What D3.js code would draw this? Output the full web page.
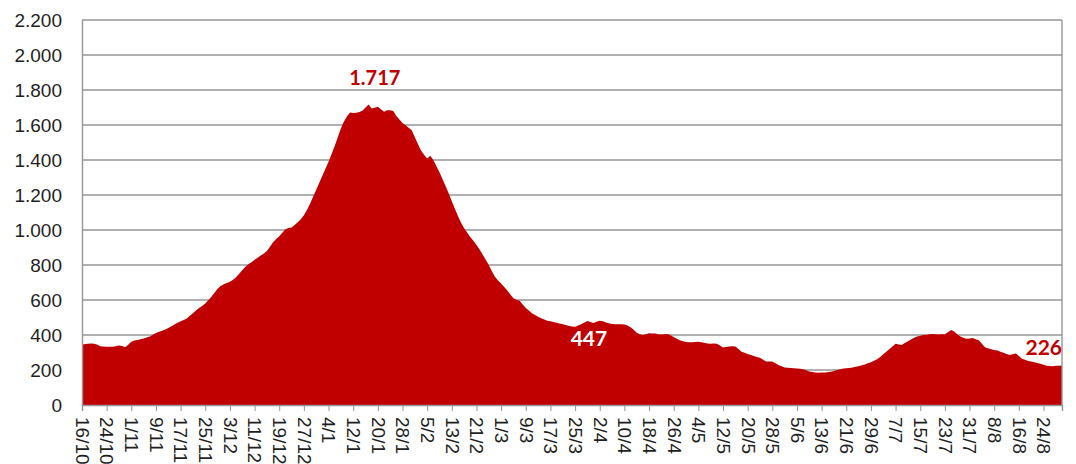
<!DOCTYPE html>
<html>
<head>
<meta charset="utf-8">
<script src="https://cdn.jsdelivr.net/npm/d3@7"></script>
<style>
  body { margin: 0; background: #fff; }
  svg { display: block; font-family: Lato, "Liberation Sans", sans-serif; }
  .grid line { stroke: #969696; stroke-width: 1.4; }
  .axis text { fill: #1f1f1f; font-size: 19px; }
  .axis path, .axis line { stroke: #969696; }
</style>
</head>
<body>
<script>
"use strict";

// daily values, one per day starting 16/10
const values = [
  345, 348, 350, 351, 350, 344, 336, 334, 333, 333,
  333, 336, 340, 337, 330, 345, 362, 368, 372, 376,
  380, 386, 392, 402, 412, 418, 425, 432, 440, 450,
  460, 470, 478, 486, 495, 510, 525, 540, 555, 566,
  580, 598, 618, 642, 665, 680, 690, 697, 705, 716,
  730, 750, 770, 790, 805, 816, 830, 842, 855, 866,
  880, 905, 930, 948, 965, 985, 1005, 1012, 1015, 1028,
  1045, 1062, 1085, 1115, 1150, 1190, 1230, 1270, 1310, 1350,
  1390, 1435, 1480, 1530, 1580, 1620, 1650, 1672, 1668, 1670,
  1674, 1682, 1700, 1717, 1695, 1698, 1704, 1690, 1676, 1685,
  1684, 1680, 1651, 1632, 1612, 1598, 1585, 1570, 1530, 1492,
  1455, 1430, 1408, 1425, 1400, 1365, 1330, 1290, 1250, 1208,
  1165, 1122, 1080, 1042, 1010, 985, 960, 938, 915, 888,
  860, 830, 800, 765, 733, 712, 695, 675, 655, 632,
  610, 602, 596, 575, 555, 540, 525, 515, 505, 496,
  488, 482, 478, 474, 470, 466, 462, 457, 452, 449,
  447, 454, 462, 472, 480, 474, 468, 476, 482, 478,
  472, 467, 463, 462, 462, 461, 460, 455, 445, 430,
  413, 405, 400, 405, 410, 409, 408, 405, 403, 405,
  406, 398, 388, 378, 370, 364, 360, 358, 358, 360,
  362, 358, 355, 352, 350, 351, 350, 340, 328, 332,
  335, 336, 335, 320, 305, 298, 292, 286, 280, 275,
  270, 258, 248, 249, 248, 238, 228, 221, 215, 213,
  212, 210, 208, 207, 205, 198, 192, 188, 186, 185,
  186, 186, 187, 190, 194, 200, 205, 208, 210, 212,
  215, 218, 222, 227, 232, 238, 245, 253, 262, 275,
  290, 305, 320, 335, 350, 346, 343, 354, 365, 375,
  385, 391, 396, 400, 402, 404, 406, 404, 403, 404,
  405, 416, 428, 420, 405, 392, 385, 378, 380, 383,
  376, 370, 350, 330, 324, 318, 315, 312, 305, 298,
  292, 286, 290, 295, 280, 265, 258, 252, 248, 245,
  240, 236, 230, 224, 223, 222, 224, 225, 226
];

// one label every 8 days
const tickLabels = [
  "16/10", "24/10", "1/11", "9/11", "17/11", "25/11", "3/12", "11/12", "19/12", "27/12",
  "4/1", "12/1", "20/1", "28/1", "5/2", "13/2", "21/2", "1/3", "9/3", "17/3",
  "25/3", "2/4", "10/4", "18/4", "26/4", "4/5", "12/5", "20/5", "28/5", "5/6",
  "13/6", "21/6", "29/6", "7/7", "15/7", "23/7", "31/7", "8/8", "16/8", "24/8"
];
const tickStep = 8;

const yTicks = [0, 200, 400, 600, 800, 1000, 1200, 1400, 1600, 1800, 2000, 2200];

// callouts: text, day index, value where the text sits
const notes = [
  { text: "1.717", day: 95, at: 1830, color: "#C00000", size: 20, anchor: "middle" },
  { text: "447", day: 164.5, at: 338, color: "#ffffff", size: 21, anchor: "middle" },
  { text: "226", day: 318, at: 286, color: "#C00000", size: 21, anchor: "end" }
];

const w = 1076;
const h = 464;
const margin = { top: 20, right: 14, bottom: 59, left: 82 };

const svg = d3.select("body").append("svg").attr("width", w).attr("height", h);

const x = d3.scaleLinear().domain([0, values.length - 1]).range([margin.left, w - margin.right]);
const y = d3.scaleLinear().domain([0, 2200]).range([h - margin.bottom, margin.top]);

//Gridlines
svg.append("g")
  .attr("class", "grid")
  .selectAll("line")
  .data(yTicks.slice(1))
  .join("line")
  .attr("x1", x(0))
  .attr("x2", x(values.length - 1))
  .attr("y1", (d) => y(d))
  .attr("y2", (d) => y(d));

//Area
const area = d3.area()
  .x((d, i) => x(i))
  .y0(y(0))
  .y1((d) => y(d));

svg.append("path").datum(values).attr("fill", "#C00000").attr("d", area);

//Right border
svg.append("line")
  .attr("x1", x(values.length - 1)).attr("x2", x(values.length - 1))
  .attr("y1", y(0)).attr("y2", y(2200))
  .attr("stroke", "#969696").attr("stroke-width", 1.4);

//y axis
const yAxis = d3.axisLeft(y)
  .tickValues(yTicks)
  .tickSize(0)
  .tickPadding(20)
  .tickFormat((d) => d3.format(",")(d).replace(/,/g, "."));

svg.append("g")
  .attr("class", "axis")
  .attr("transform", `translate(${margin.left},0)`)
  .call(yAxis)
  .call((g) => g.select(".domain").attr("stroke-width", 1.4));

//x axis
const xAxis = d3.axisBottom(x)
  .tickValues(d3.range(0, values.length, tickStep))
  .tickSize(6)
  .tickFormat((d) => tickLabels[d / tickStep]);

svg.append("g")
  .attr("class", "axis")
  .attr("transform", `translate(0,${y(0)})`)
  .call(xAxis)
  .call((g) => g.select(".domain").attr("stroke-width", 1.4))
  .selectAll("text")
  .attr("transform", "rotate(90)")
  .attr("x", 12)
  .attr("y", 0)
  .attr("dy", "0.35em")
  .style("text-anchor", "start");

//Callouts
svg.append("g")
  .selectAll("text")
  .data(notes)
  .join("text")
  .attr("x", (d) => x(d.day))
  .attr("y", (d) => y(d.at))
  .attr("fill", (d) => d.color)
  .attr("font-size", (d) => d.size)
  .attr("font-weight", "bold")
  .attr("text-anchor", (d) => d.anchor)
  .text((d) => d.text);
</script>
</body>
</html>
